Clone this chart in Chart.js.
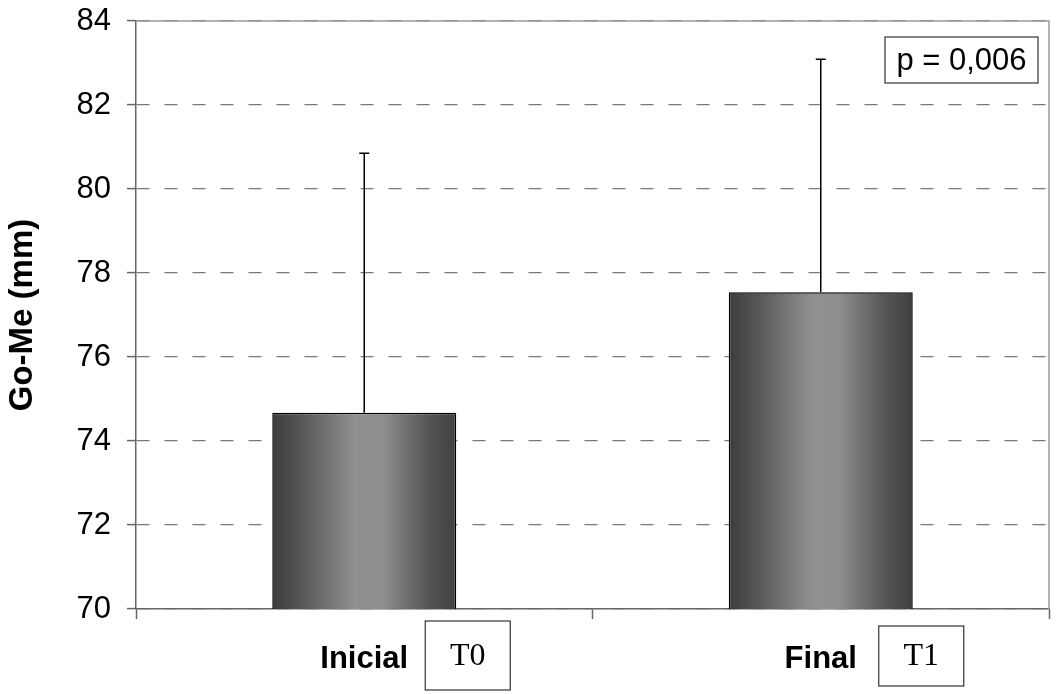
<!DOCTYPE html>
<html>
<head>
<meta charset="utf-8">
<script src="https://cdn.jsdelivr.net/npm/chart.js@4/dist/chart.umd.min.js"></script>
<style>
    html, body { margin: 0; padding: 0; background: #fff; }
    #wrap { width: 1059px; height: 694px; position: relative; }
</style>
</head>
<body>
<div id="wrap"><canvas id="grafico" width="1059" height="694"></canvas></div>
<script>
// dados
var categorias = ['Inicial', 'Final'];
var tempos = ['T0', 'T1'];
var medias = [74.67, 77.54];
var desvios = [6.18, 5.55];
var tickY = [70, 72, 74, 76, 78, 80, 82, 84];
var textoP = 'p = 0,006';

var fonteSans = '"Liberation Sans", Arial, sans-serif';
var fonteSerif = '"Liberation Serif", "Times New Roman", serif';
var larguraBarra = 0.403;

// degradê horizontal de cada barra (escuro nas bordas, claro no meio)
function degrade(c) {
    var chart = c.chart;
    if (!chart.chartArea || !chart.scales.x) return '#777';
    var x = chart.scales.x;
    var cx = x.getPixelForValue(c.dataIndex);
    var w = x.width / categorias.length * larguraBarra;
    var g = chart.ctx.createLinearGradient(cx - w / 2, 0, cx + w / 2, 0);
    g.addColorStop(0, '#3c3c3c');
    g.addColorStop(0.15, '#555555');
    g.addColorStop(0.45, '#909090');
    g.addColorStop(0.6, '#8e8e8e');
    g.addColorStop(0.85, '#555555');
    g.addColorStop(1, '#404040');
    return g;
}

// barras de erro (só para cima)
var errosPlugin = {
    id: 'erros',
    afterDatasetsDraw: function(chart) {
        var ctx = chart.ctx;
        var y = chart.scales.y;
        var meta = chart.getDatasetMeta(0);
        ctx.save();
        ctx.strokeStyle = '#000';
        ctx.lineWidth = 1.5;
        meta.data.forEach(function(bar, i) {
            var topo = y.getPixelForValue(medias[i] + desvios[i]);
            ctx.beginPath();
            ctx.moveTo(bar.x, bar.y);
            ctx.lineTo(bar.x, topo);
            ctx.moveTo(bar.x - 5, topo);
            ctx.lineTo(bar.x + 5, topo);
            ctx.stroke();
        });
        ctx.restore();
    }
};

// borda da área, caixa do p e caixas T0/T1
var extrasPlugin = {
    id: 'extras',
    beforeDraw: function(chart) {
        var ctx = chart.ctx;
        ctx.save();
        ctx.fillStyle = '#fff';
        ctx.fillRect(0, 0, chart.width, chart.height);
        ctx.restore();
    },
    afterDraw: function(chart) {
        var a = chart.chartArea;
        var ctx = chart.ctx;
        var x = chart.scales.x;
        ctx.save();
        ctx.strokeStyle = '#9a9a9a';
        ctx.lineWidth = 1.5;
        ctx.beginPath();
        ctx.moveTo(a.left, a.top);
        ctx.lineTo(a.right, a.top);
        ctx.lineTo(a.right, a.bottom);
        ctx.stroke();

        // caixa do p
        ctx.strokeStyle = '#333';
        ctx.lineWidth = 1.2;
        ctx.strokeRect(a.right - 164, a.top + 16, 153, 46);
        ctx.fillStyle = '#000';
        ctx.font = '31px ' + fonteSans;
        ctx.textAlign = 'center';
        ctx.textBaseline = 'middle';
        ctx.fillText(textoP, a.right - 164 + 76.5, a.top + 16 + 24);

        // caixas T0 / T1
        ctx.font = '32px ' + fonteSerif;
        var desloc = [[61, 12, 85, 69], [58, 17, 85, 60]];
        tempos.forEach(function(t, i) {
            var cx = x.getPixelForValue(i);
            var d = desloc[i];
            var bx = cx + d[0], by = a.bottom + d[1];
            ctx.strokeRect(bx, by, d[2], d[3]);
            ctx.fillText(t, bx + d[2] / 2, by + d[3] / 2 + 1);
        });
        ctx.restore();
    }
};

var ctx = document.getElementById('grafico');

var grafico = new Chart(ctx, {
    type: 'bar',
    data: {
        labels: categorias,
        datasets: [{
            label: 'Go-Me',
            data: medias,
            backgroundColor: degrade,
            borderColor: '#000',
            borderWidth: 1.5,
            borderSkipped: false,
            categoryPercentage: 1,
            barPercentage: larguraBarra
        }]
    },
    options: {
        responsive: false,
        animation: false,
        layout: { padding: { top: 21, right: 10, left: 0, bottom: 0 } },
        plugins: {
            legend: { display: false },
            tooltip: { enabled: false }
        },
        scales: {
            x: {
                afterFit: function(s) {
                    s.height = 85;
                    s.paddingLeft = 0;
                    s.paddingRight = 0;
                },
                border: { display: true, color: '#666', width: 1.5 },
                grid: {
                    offset: true,
                    drawOnChartArea: false,
                    drawTicks: true,
                    tickLength: 10,
                    tickColor: '#666',
                    tickWidth: 1.5
                },
                ticks: {
                    color: '#000',
                    padding: 22,
                    font: { family: fonteSans, size: 31, weight: 'bold' }
                }
            },
            y: {
                min: 70,
                max: 84,
                afterFit: function(s) {
                    s.width = 136;
                    s.paddingTop = 0;
                    s.paddingBottom = 0;
                },
                afterBuildTicks: function(s) {
                    s.ticks = tickY.map(function(v) { return { value: v }; });
                },
                border: { display: true, color: '#666', width: 1.5, dash: [13, 15] },
                grid: {
                    color: '#7a7a7a',
                    lineWidth: 1.2,
                    tickLength: 9,
                    tickColor: '#666',
                    tickWidth: 1.5,
                    tickBorderDash: []
                },
                ticks: {
                    color: '#000',
                    padding: 16,
                    font: { family: fonteSans, size: 31 }
                },
                title: {
                    display: true,
                    text: 'Go-Me (mm)',
                    color: '#000',
                    padding: { top: 3, bottom: 0 },
                    font: { family: fonteSans, size: 33, weight: 'bold' }
                }
            }
        }
    },
    plugins: [errosPlugin, extrasPlugin]
});
</script>
</body>
</html>
